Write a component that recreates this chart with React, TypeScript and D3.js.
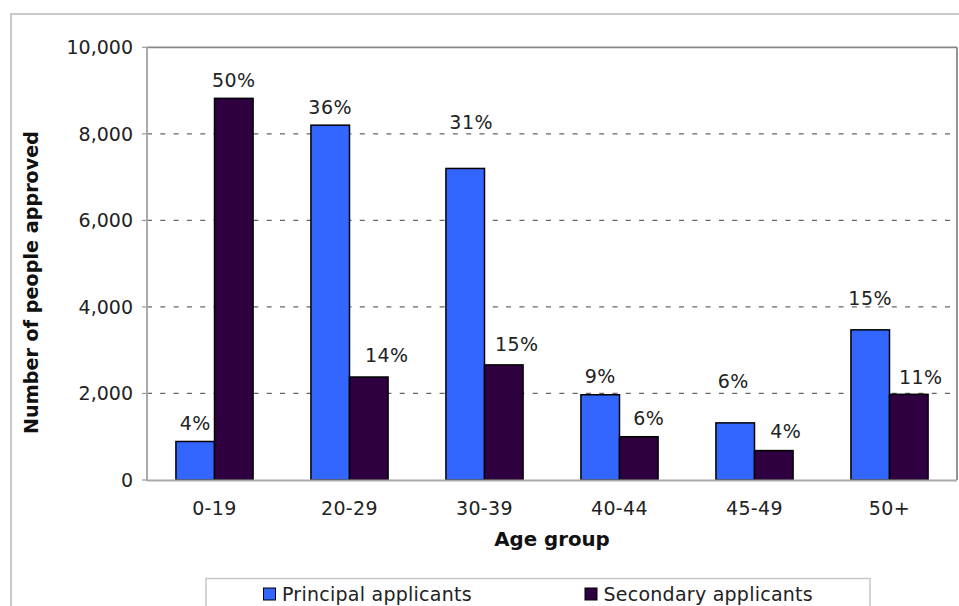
import React from "react";
import * as d3 from "d3";

const categories = ["0-19", "20-29", "30-39", "40-44", "45-49", "50+"];
const principal = [890, 8200, 7200, 1970, 1320, 3470];
const secondary = [8820, 2380, 2660, 1000, 680, 1980];
const principalPct = ["4%", "36%", "31%", "9%", "6%", "15%"];
const secondaryPct = ["50%", "14%", "15%", "6%", "4%", "11%"];
const yTicks = [0, 2000, 4000, 6000, 8000, 10000];
const seriesNames = ["Principal applicants", "Secondary applicants"];

// layout / style (not data)
const W = 959;
const H = 606;
const plot = { left: 147, right: 957, top: 47.3, bottom: 480 };
const colors = ["#3366FF", "#2F0040"];
const FONT = "'DejaVu Sans', Verdana, sans-serif";
// manual label nudges seen in the reference (dx, dy in px)
const nudgeP: [number, number][] = [[0, 0], [0, 0], [6, -27.5], [0, 0], [-2, -23], [0, -13]];
const nudgeS: [number, number][] = [[0, 0], [18, -3.5], [13, -2], [10, 0], [12, -1.5], [12, 1]];

export default function App() {
  const x = d3.scaleBand<string>().domain(categories).range([plot.left, plot.right]).padding(0);
  const y = d3.scaleLinear().domain([0, 10000]).range([plot.bottom, plot.top]);
  const bw = x.bandwidth() / 3.5;
  const fmt = d3.format(",");
  const series = [principal, secondary];
  const pcts = [principalPct, secondaryPct];
  const nudges = [nudgeP, nudgeS];

  return (
    <svg
      width={W}
      height={H}
      style={{ position: "absolute", left: 0, top: 0, background: "#fff" }}
      fontFamily={FONT}
    >
      <rect x={0} y={0} width={W} height={H} fill="#fff" />
      {/* outer chart border */}
      <rect x={11} y={14} width={1100} height={800} fill="none" stroke="#c8c8c8" strokeWidth={2} />

      {/* gridlines */}
      {yTicks.filter((t) => t > 0).map((t) => (
        <line
          key={"g" + t}
          x1={plot.left}
          x2={plot.right}
          y1={y(t)}
          y2={y(t)}
          stroke={t === 10000 ? "#888" : "#666"}
          strokeWidth={t === 10000 ? 1.8 : 1.3}
          strokeDasharray={t === 10000 ? undefined : "5 8.3"}
        />
      ))}
      {/* right border */}
      <line x1={plot.right} x2={plot.right} y1={plot.top} y2={plot.bottom} stroke="#888" strokeWidth={1.8} />

      {/* bars */}
      {categories.map((c, i) => {
        const cx = (x(c) as number) + x.bandwidth() / 2;
        return series.map((s, k) => (
          <rect
            key={c + k}
            x={cx - bw + k * bw}
            y={y(s[i])}
            width={bw}
            height={y(0) - y(s[i])}
            fill={colors[k]}
            stroke="#000"
            strokeWidth={1.5}
          />
        ));
      })}

      {/* axes */}
      <line x1={plot.left} x2={plot.left} y1={plot.top} y2={plot.bottom + 1} stroke="#aaa" strokeWidth={2} />
      <line x1={plot.left} x2={plot.right} y1={plot.bottom + 0.5} y2={plot.bottom + 0.5} stroke="#aaa" strokeWidth={2} />
      {yTicks.map((t) => (
        <g key={"t" + t}>
          <line x1={plot.left - 5} x2={plot.left} y1={y(t)} y2={y(t)} stroke="#999" strokeWidth={1.2} />
          <text x={133} y={y(t)} textAnchor="end" dominantBaseline="central" fontSize={19} fill="#222">
            {fmt(t)}
          </text>
        </g>
      ))}
      {categories.map((c) => (
        <text
          key={"x" + c}
          x={(x(c) as number) + x.bandwidth() / 2}
          y={508}
          textAnchor="middle"
          dominantBaseline="central"
          fontSize={19}
          letterSpacing={0.4}
          fill="#222"
        >
          {c}
        </text>
      ))}

      {/* data labels */}
      {categories.map((c, i) => {
        const cx = (x(c) as number) + x.bandwidth() / 2;
        return series.map((s, k) => (
          <text
            key={"l" + c + k}
            x={cx - bw / 2 + k * bw + nudges[k][i][0]}
            y={y(s[i]) - 18.5 + nudges[k][i][1]}
            textAnchor="middle"
            dominantBaseline="central"
            fontSize={19}
            letterSpacing={0.5}
            fill="#222"
          >
            {pcts[k][i]}
          </text>
        ));
      })}

      {/* axis titles */}
      <text
        transform={`translate(31,282.5) rotate(-90)`}
        textAnchor="middle"
        dominantBaseline="central"
        fontSize={19.2}
        fontWeight="bold"
        fill="#111"
      >
        Number of people approved
      </text>
      <text
        x={(plot.left + plot.right) / 2}
        y={539}
        textAnchor="middle"
        dominantBaseline="central"
        fontSize={19.8}
        fontWeight="bold"
        fill="#111"
      >
        Age group
      </text>

      {/* legend */}
      <rect x={206} y={578.5} width={664} height={40} fill="#fff" stroke="#c8c8c8" strokeWidth={1.5} />
      {seriesNames.map((n, k) => {
        const lx = k === 0 ? 263.5 : 585;
        return (
          <g key={n}>
            <rect x={lx} y={588} width={12} height={12} fill={colors[k]} stroke="#000" strokeWidth={1} />
            <text x={lx + 18.5} y={600.7} fontSize={19} letterSpacing={0.25} fill="#222">
              {n}
            </text>
          </g>
        );
      })}
    </svg>
  );
}
